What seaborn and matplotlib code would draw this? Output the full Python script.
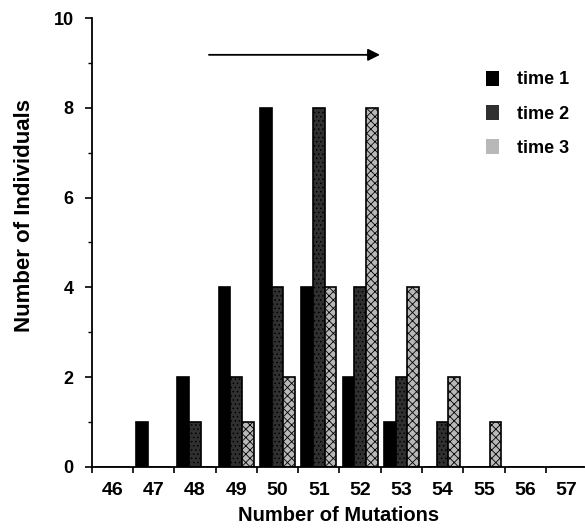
import matplotlib
matplotlib.use("Agg")
import matplotlib.pyplot as plt
from matplotlib.patches import Patch
import pandas as pd
import seaborn as sns

# =========================================
# DATA
# =========================================
MUTATIONS = [46, 47, 48, 49, 50, 51, 52, 53, 54, 55, 56, 57]
TIME_1 = [0, 1, 2, 4, 8, 4, 2, 1, 0, 0, 0, 0]
TIME_2 = [0, 0, 1, 2, 4, 8, 4, 2, 1, 0, 0, 0]
TIME_3 = [0, 0, 0, 1, 2, 4, 8, 4, 2, 1, 0, 0]
SERIES = ["time 1", "time 2", "time 3"]
Y_TICKS = [0, 2, 4, 6, 8, 10]

COLORS = ["#000000", "#303030", "#b8b8b8"]
HATCHES = [None, "....", "xxxx"]

# =========================================
# BUILD FRAME
# =========================================
rows = []
for name, vals in zip(SERIES, [TIME_1, TIME_2, TIME_3]):
    for m, v in zip(MUTATIONS, vals):
        rows.append({"Mutations": str(m), "Count": v, "Series": name})
df = pd.DataFrame(rows)

# =========================================
# PLOT
# =========================================
sns.set_theme(style="ticks")
plt.rcParams["font.family"] = ["Liberation Sans", "DejaVu Sans"]
plt.rcParams["font.weight"] = "bold"
plt.rcParams["text.color"] = "black"
plt.rcParams["axes.labelcolor"] = "black"
plt.rcParams["xtick.color"] = "black"
plt.rcParams["ytick.color"] = "black"
plt.rcParams["hatch.color"] = "#808080"
plt.rcParams["hatch.linewidth"] = 0.6

fig = plt.figure(figsize=(5.85, 5.3), dpi=100)
ax = fig.add_axes([0.157, 0.119, 0.843, 0.847])

sns.barplot(
    data=df, x="Mutations", y="Count", hue="Series",
    palette=COLORS, width=0.85, edgecolor="black", linewidth=1.2,
    ax=ax, legend=False
)

for cont, hatch in zip(ax.containers, HATCHES):
    for bar in cont:
        if hatch:
            bar.set_hatch(hatch)

ax.set_xlim(-0.5, 11.45)
ax.set_ylim(0, 10)

# labels centred on groups, tick marks at group boundaries
n = len(MUTATIONS)
ax.set_xticks(range(n))
ax.set_xticklabels([str(m) for m in MUTATIONS], fontsize=14, fontweight="bold")
ax.set_xticks([i - 0.5 for i in range(n)], minor=True)
ax.tick_params(axis="x", which="major", length=0, pad=11)
ax.tick_params(axis="x", which="minor", length=4, width=1.2, direction="out")

ax.set_yticks(Y_TICKS)
ax.set_yticklabels([str(t) for t in Y_TICKS], fontsize=13, fontweight="bold")
ax.set_yticks(range(1, 10, 2), minor=True)
ax.tick_params(axis="y", which="major", length=5, width=1.2, pad=8)
ax.tick_params(axis="y", which="minor", length=3, width=1)

ax.set_xlabel("Number of Mutations", fontsize=14.5, fontweight="bold", labelpad=5)
ax.set_ylabel("Number of Individuals", fontsize=16, fontweight="bold")
ax.yaxis.set_label_coords(-0.116, 0.56)

sns.despine(ax=ax)
for side in ["left", "bottom"]:
    ax.spines[side].set_linewidth(1.3)
    ax.spines[side].set_color("black")

# arrow showing the shift over time
ax.annotate(
    "", xy=(6.55, 9.18), xytext=(2.27, 9.18),
    arrowprops=dict(arrowstyle="-|>", color="black", lw=1.3, mutation_scale=18)
)

# legend
handles = [
    Patch(facecolor=c, edgecolor="none", hatch=h, label=s)
    for c, h, s in zip(COLORS, HATCHES, SERIES)
]
ax.legend(
    handles=handles, loc="upper left", bbox_to_anchor=(0.80, 0.883),
    frameon=False, borderpad=0, borderaxespad=0,
    handlelength=0.7, handleheight=0.9,
    labelspacing=0.92, handletextpad=1.0, prop={"weight": "bold", "size": 13}
)

fig.savefig("out.png", dpi=100)
